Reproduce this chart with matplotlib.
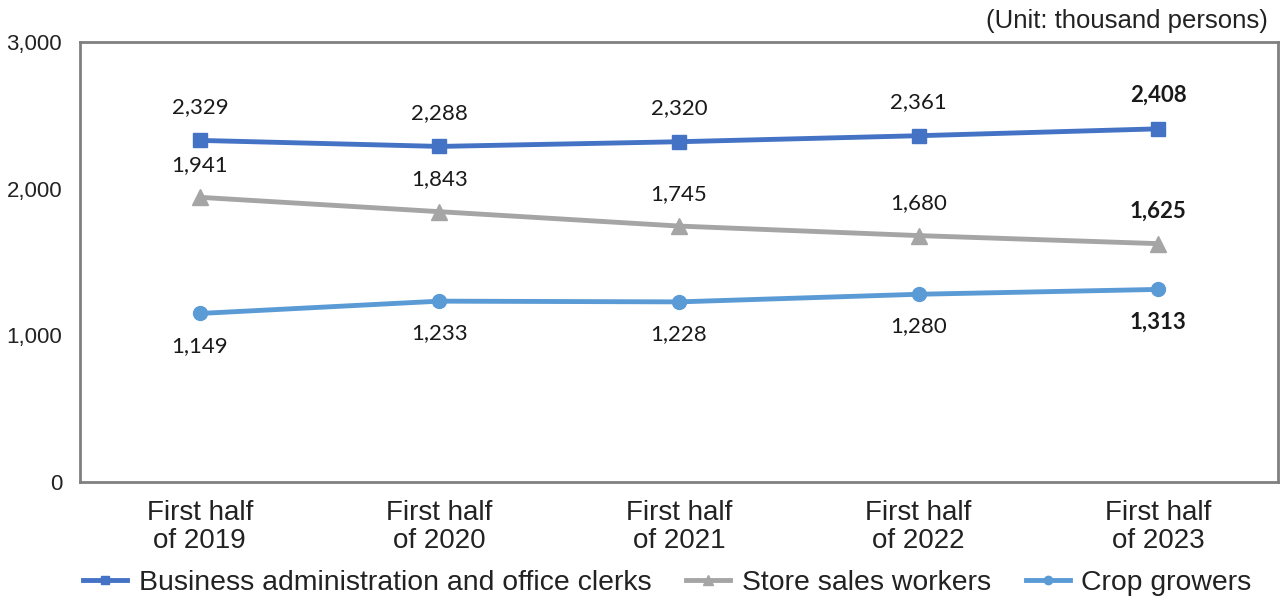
import matplotlib
matplotlib.use("Agg")
import matplotlib.pyplot as plt

categories = ["First half\nof 2019", "First half\nof 2020", "First half\nof 2021",
              "First half\nof 2022", "First half\nof 2023"]
business = [2329, 2288, 2320, 2361, 2408]
store = [1941, 1843, 1745, 1680, 1625]
crop = [1149, 1233, 1228, 1280, 1313]
series_names = ["Business administration and office clerks", "Store sales workers", "Crop growers"]
yticks = [0, 1000, 2000, 3000]

plt.rcParams['font.family'] = ['Liberation Sans', 'DejaVu Sans']

fig = plt.figure(figsize=(12.81, 6), dpi=100)
ax = fig.add_axes([0.0625, 0.1967, 0.9352, 0.7333])

x = list(range(len(categories)))
c_bus, c_store, c_crop = "#4472C4", "#A5A5A5", "#5B9BD5"
ax.plot(x, business, color=c_bus, lw=3.5, marker="s", ms=10, label=series_names[0])
ax.plot(x, store, color=c_store, lw=3.5, marker="^", ms=11, label=series_names[1])
ax.plot(x, crop, color=c_crop, lw=3.5, marker="o", ms=10, label=series_names[2])

lab_font = ['Lato', 'DejaVu Sans']
for i in x:
    bold = "bold" if i == len(x) - 1 else "normal"
    ax.annotate(f"{business[i]:,}", (i, business[i]), xytext=(0, 17), textcoords="offset points",
                ha="center", va="bottom", fontsize=16, family=lab_font, fontweight=bold, color="#1a1a1a")
    ax.annotate(f"{store[i]:,}", (i, store[i]), xytext=(0, 16), textcoords="offset points",
                ha="center", va="bottom", fontsize=16, family=lab_font, fontweight=bold, color="#1a1a1a")
    ax.annotate(f"{crop[i]:,}", (i, crop[i]), xytext=(0, -16), textcoords="offset points",
                ha="center", va="top", fontsize=16, family=lab_font, fontweight=bold, color="#1a1a1a")

ax.set_xlim(-0.5, len(x) - 0.5)
ax.set_ylim(0, 3000)
ax.set_yticks(yticks)
ax.set_yticklabels([f"{v:,}" for v in yticks], fontsize=16, color="#222222")
ax.set_xticks(x)
ax.set_xticklabels(categories, fontsize=20, color="#222222", linespacing=1.1)
ax.tick_params(axis="y", length=0, pad=13)
ax.tick_params(axis="x", length=0, pad=13)
for s in ax.spines.values():
    s.set_color("#808080")
    s.set_linewidth(2)

fig.text(0.99, 0.965, "(Unit: thousand persons)", ha="right", va="center", fontsize=18.5, color="#222222")

fig.legend(loc="center", bbox_to_anchor=(0.521, 0.028), ncol=3, frameon=False, fontsize=20.4,
           handlelength=1.55, columnspacing=1.24, handletextpad=0.4, markerscale=0.6,
           labelcolor="#222222")

fig.savefig("out.png", dpi=100)
